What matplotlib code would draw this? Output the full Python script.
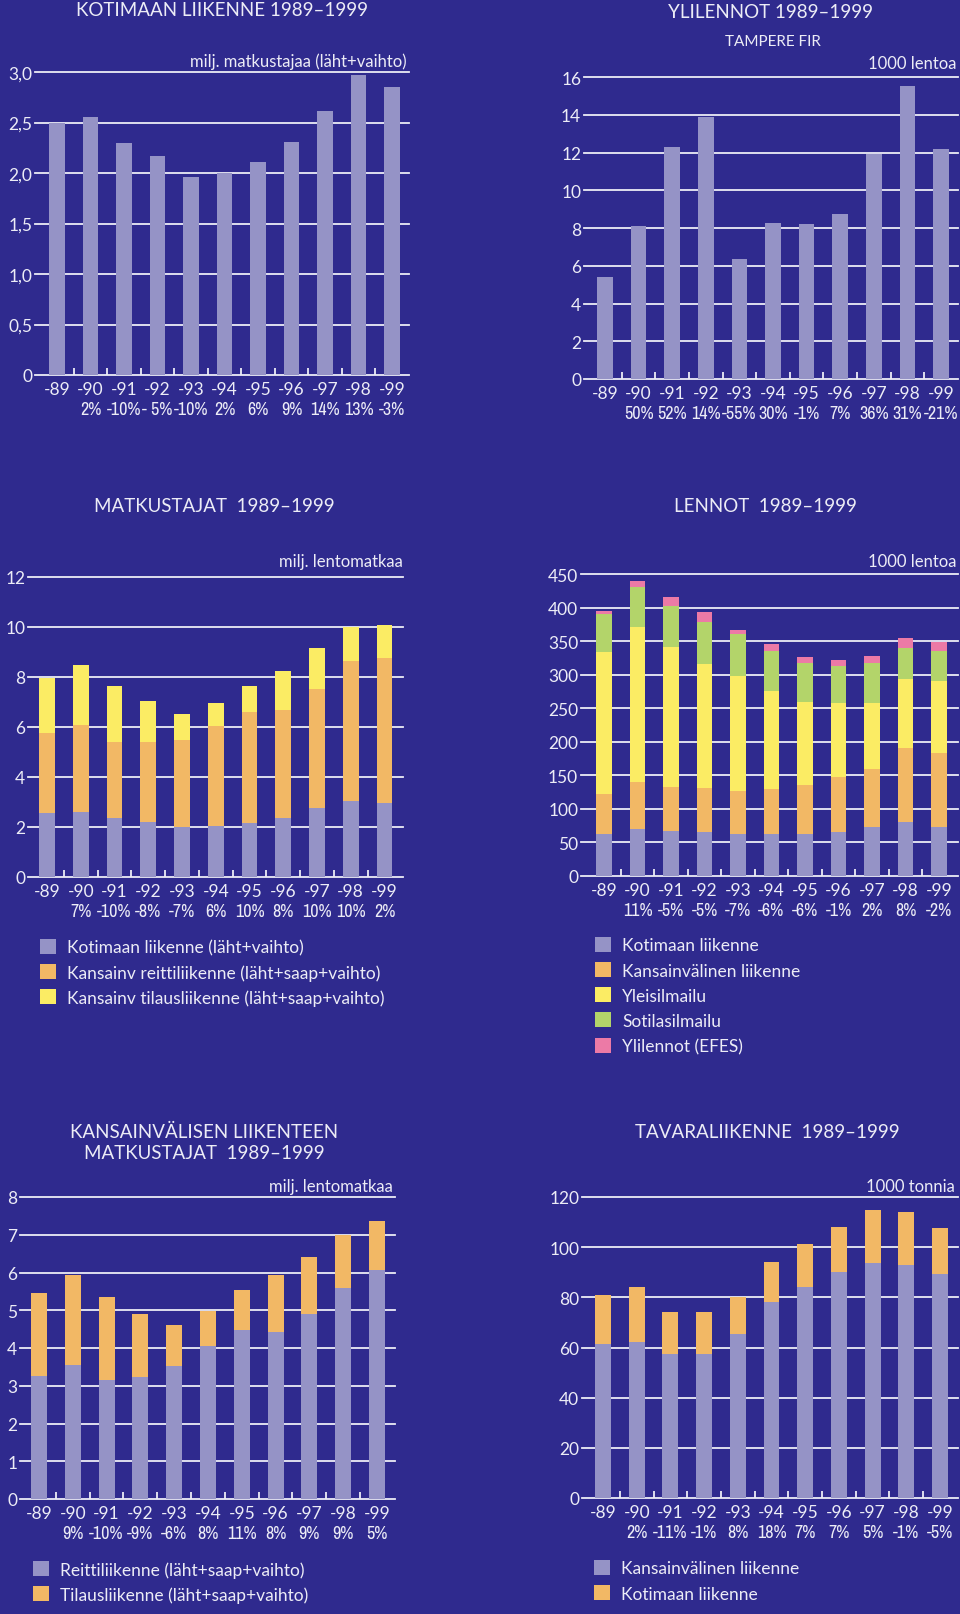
import matplotlib
matplotlib.use('Agg')
import matplotlib.pyplot as plt
import numpy as np

# väri ja kirjasin
BG = '#2f2a8e'
TXT = '#ececf6'
LAV = '#9593c6'
ORA = '#f2b865'
YEL = '#fbec64'
GRN = '#b3d46a'
PNK = '#ec7aa6'
FONT = ['Lato', 'DejaVu Sans']
NARROW = ['Archivo Narrow', 'Liberation Sans Narrow', 'Liberation Sans', 'DejaVu Sans']
plt.rcParams['font.family'] = FONT

W, H = 960, 1615

years = ['-89', '-90', '-91', '-92', '-93', '-94', '-95', '-96', '-97', '-98', '-99']

# KOTIMAAN LIIKENNE
kotimaan = [2.50, 2.55, 2.30, 2.17, 1.96, 2.00, 2.11, 2.31, 2.61, 2.97, 2.85]
kotimaan_pct = ['', '2%', '-10%', '- 5%', '-10%', '2%', '6%', '9%', '14%', '13%', '-3%']

# YLILENNOT (Tampere FIR)
ylilennot = [5.4, 8.1, 12.3, 13.9, 6.35, 8.25, 8.2, 8.75, 11.9, 15.5, 12.2]
ylilennot_pct = ['', '50%', '52%', '14%', '-55%', '30%', '-1%', '7%', '36%', '31%', '-21%']

# MATKUSTAJAT
matk_kotimaan = [2.55, 2.60, 2.35, 2.21, 1.99, 2.04, 2.15, 2.35, 2.75, 3.04, 2.96]
matk_reitti = [3.20, 3.48, 3.05, 3.18, 3.48, 3.99, 4.45, 4.34, 4.78, 5.60, 5.80]
matk_tilaus = [2.21, 2.41, 2.24, 1.66, 1.06, 0.93, 1.03, 1.56, 1.63, 1.36, 1.34]
matk_pct = ['', '7%', '-10%', '-8%', '-7%', '6%', '10%', '8%', '10%', '10%', '2%']

# LENNOT
lennot_kotimaan = [63, 70, 67, 65, 62, 63, 62, 65, 73, 80, 73]
lennot_kv = [59, 70, 66, 66, 65, 66, 74, 82, 86, 110, 110]
lennot_yleis = [212, 231, 208, 185, 171, 147, 124, 111, 99, 104, 107]
lennot_sotilas = [56, 59, 61, 63, 63, 60, 58, 55, 59, 46, 46]
lennot_yli = [5, 9, 13, 14, 6, 9, 8, 9, 11, 15, 13]
lennot_pct = ['', '11%', '-5%', '-5%', '-7%', '-6%', '-6%', '-1%', '2%', '8%', '-2%']

# KANSAINVÄLISEN LIIKENTEEN MATKUSTAJAT
kv_reitti = [3.27, 3.55, 3.15, 3.24, 3.53, 4.04, 4.48, 4.42, 4.90, 5.58, 6.06]
kv_tilaus = [2.19, 2.38, 2.20, 1.66, 1.07, 0.94, 1.05, 1.51, 1.51, 1.42, 1.30]
kv_pct = ['', '9%', '-10%', '-9%', '-6%', '8%', '11%', '8%', '9%', '9%', '5%']

# TAVARALIIKENNE
tavara_kv = [61.2, 62.2, 57.3, 57.3, 65.2, 78.3, 84.2, 90.2, 93.8, 92.8, 89.5]
tavara_kotimaan = [19.9, 22.0, 16.9, 16.9, 14.9, 15.8, 17.0, 18.0, 21.0, 21.4, 18.2]
tavara_pct = ['', '2%', '-11%', '-1%', '8%', '18%', '7%', '7%', '5%', '-1%', '-5%']

x = np.arange(len(years))
BW = 0.47

fig = plt.figure(figsize=(W / 100, H / 100), dpi=100, facecolor=BG)


def fx(px):
    return px / W


def fy(py):
    return 1 - py / H


def panel(left, right, zero_y, top_y, c_first, c_last, ymax, yticks, ylabels, pct):
    ax = fig.add_axes([fx(left), fy(zero_y), (right - left) / W, (zero_y - top_y) / H])
    s = (c_last - c_first) / 10
    ax.set_xlim((left - c_first) / s, (right - c_first) / s)
    ax.set_ylim(0, ymax)
    ax.patch.set_visible(False)
    for sp in ax.spines.values():
        sp.set_visible(False)
    for t in yticks:
        ax.axhline(t, color=TXT, lw=1.3, zorder=1, clip_on=False)
    ax.set_yticks(yticks, ylabels)
    ax.tick_params(axis='y', length=0, pad=2, labelcolor=TXT, labelsize=12.5)
    # pienet pystyviivat vuosien välissä
    ax.set_xticks([])
    ax.set_xticks(x[:-1] + 0.5, minor=True)
    ax.tick_params(axis='x', which='minor', direction='in', length=5, width=1.3, color=TXT)
    for xi, yr, p in zip(x, years, pct):
        ax.annotate(yr, (xi, 0), xycoords=('data', 'axes fraction'), xytext=(0, -14),
                    textcoords='offset pixels', ha='center', va='center',
                    color=TXT, fontsize=12.5)
        ax.annotate(p, (xi, 0), xycoords=('data', 'axes fraction'), xytext=(0, -34),
                    textcoords='offset pixels', ha='center', va='center',
                    color=TXT, fontsize=13, family=NARROW)
    return ax


def stack(ax, series, colors):
    bottom = np.zeros(len(x))
    bars = []
    for vals, c in zip(series, colors):
        b = ax.bar(x, vals, BW, bottom=bottom, color=c, zorder=2, clip_on=False)
        bars.append(b)
        bottom = bottom + np.array(vals)
    return bars


def title(cx, cy, s, size=13.5):
    fig.text(fx(cx), fy(cy), s, ha='center', va='center', color=TXT, fontsize=size)


def unit(rx, cy, s):
    fig.text(fx(rx), fy(cy), s, ha='right', va='center', color=TXT, fontsize=12)


def legend(bars, labels, lx, ty):
    fig.legend(bars, labels, loc='upper left', bbox_to_anchor=(fx(lx), fy(ty)),
               frameon=False, borderpad=0, borderaxespad=0, handlelength=0.95,
               handleheight=0.95, handletextpad=0.6, labelspacing=0.5,
               fontsize=12.5, labelcolor=TXT)


# 1. Kotimaan liikenne
ax1 = panel(35, 409, 376, 73, 57, 392, 3.0, [0, 0.5, 1.0, 1.5, 2.0, 2.5, 3.0],
            ['0', '0,5', '1,0', '1,5', '2,0', '2,5', '3,0'], kotimaan_pct)
stack(ax1, [kotimaan], [LAV])
title(222, 11, 'KOTIMAAN LIIKENNE 1989–1999')
unit(407, 62, 'milj. matkustajaa (läht+vaihto)')

# 2. Ylilennot
ax2 = panel(584, 958, 380, 78, 605, 941, 16, list(range(0, 17, 2)),
            [str(v) for v in range(0, 17, 2)], ylilennot_pct)
stack(ax2, [ylilennot], [LAV])
title(771, 13, 'YLILENNOT 1989–1999')
title(773, 42, 'TAMPERE FIR', size=11)
unit(957, 64, '1000 lentoa')

# 3. Matkustajat
ax3 = panel(28, 403, 878, 578, 47, 384.5, 12, list(range(0, 13, 2)),
            [str(v) for v in range(0, 13, 2)], matk_pct)
b3 = stack(ax3, [matk_kotimaan, matk_reitti, matk_tilaus], [LAV, ORA, YEL])
title(214, 507, 'MATKUSTAJAT  1989–1999')
unit(403, 562, 'milj. lentomatkaa')
legend(b3, ['Kotimaan liikenne (läht+vaihto)',
            'Kansainv reittiliikenne (läht+saap+vaihto)',
            'Kansainv tilausliikenne (läht+saap+vaihto)'], 40, 940)

# 4. Lennot
ax4 = panel(581, 958, 877, 575, 604, 939, 450, list(range(0, 451, 50)),
            [str(v) for v in range(0, 451, 50)], lennot_pct)
b4 = stack(ax4, [lennot_kotimaan, lennot_kv, lennot_yleis, lennot_sotilas, lennot_yli],
           [LAV, ORA, YEL, GRN, PNK])
title(765, 507, 'LENNOT  1989–1999')
unit(957, 562, '1000 lentoa')
legend(b4, ['Kotimaan liikenne', 'Kansainvälinen liikenne', 'Yleisilmailu',
            'Sotilasilmailu', 'Ylilennot (EFES)'], 595, 938)

# 5. Kansainvälisen liikenteen matkustajat
ax5 = panel(20, 395, 1500, 1198, 39, 377, 8, list(range(0, 9)),
            [str(v) for v in range(0, 9)], kv_pct)
b5 = stack(ax5, [kv_reitti, kv_tilaus], [LAV, ORA])
title(204, 1132, 'KANSAINVÄLISEN LIIKENTEEN')
title(204, 1154, 'MATKUSTAJAT  1989–1999')
unit(393, 1187, 'milj. lentomatkaa')
legend(b5, ['Reittiliikenne (läht+saap+vaihto)', 'Tilausliikenne (läht+saap+vaihto)'], 33, 1562)

# 6. Tavaraliikenne
ax6 = panel(582, 958, 1499, 1198, 603, 940, 120, list(range(0, 121, 20)),
            [str(v) for v in range(0, 121, 20)], tavara_pct)
b6 = stack(ax6, [tavara_kv, tavara_kotimaan], [LAV, ORA])
title(767, 1132, 'TAVARALIIKENNE  1989–1999')
unit(955, 1187, '1000 tonnia')
legend(b6, ['Kansainvälinen liikenne', 'Kotimaan liikenne'], 594, 1561)

fig.savefig('out.png', dpi=100, facecolor=BG)
